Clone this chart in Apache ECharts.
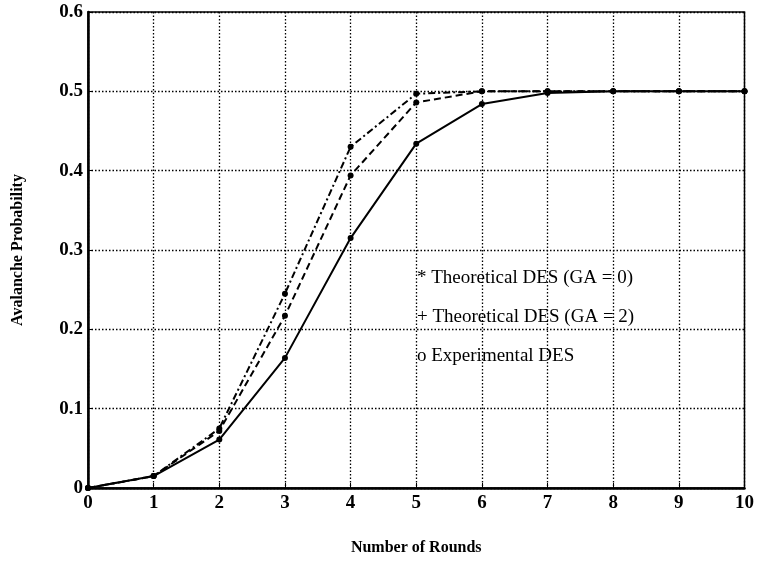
<!DOCTYPE html>
<html>
<head>
<meta charset="utf-8">
<script src="https://cdn.jsdelivr.net/npm/echarts@6/dist/echarts.min.js"></script>
<style>
  html, body { margin: 0; padding: 0; background: #fff; }
  #chart { width: 757px; height: 561px; }
</style>
</head>
<body>
<div id="chart"></div>
<script>
// rounds on the x axis
const rounds = [0, 1, 2, 3, 4, 5, 6, 7, 8, 9, 10];
// theoretical DES, GA = 0 (dash-dot)
const theoGA0 = [0, 0.015, 0.075, 0.245, 0.43, 0.497, 0.5, 0.5, 0.5, 0.5, 0.5];
// theoretical DES, GA = 2 (dashed)
const theoGA2 = [0, 0.015, 0.072, 0.217, 0.394, 0.486, 0.5, 0.5, 0.5, 0.5, 0.5];
// experimental DES (solid)
const experimental = [0, 0.015, 0.061, 0.164, 0.315, 0.434, 0.484, 0.498, 0.5, 0.5, 0.5];
const legendLines = [
  "* Theoretical DES (GA = 0)",
  "+ Theoretical DES (GA = 2)",
  "o Experimental DES"
];

const serif = "Liberation Serif";
const chart = echarts.init(document.getElementById("chart"), null, { renderer: "canvas" });

const pairs = (ys) => rounds.map((x, i) => [x, ys[i]]);

function mkSeries(name, ys, dash) {
  return {
    name: name,
    type: "line",
    data: pairs(ys),
    symbol: "circle",
    symbolSize: 6,
    itemStyle: { color: "#000" },
    lineStyle: { color: "#000", width: 2, type: dash },
    z: 5
  };
}

const option = {
  animation: false,
  grid: { left: 88, right: 10, top: 12, bottom: 71, show: true, borderColor: "#000", borderWidth: 1.5 },
  xAxis: {
    type: "value",
    min: 0, max: 10, interval: 1,
    name: "Number of Rounds",
    nameLocation: "middle",
    nameGap: 52,
    nameTextStyle: { fontFamily: serif, fontSize: 16, fontWeight: "bold", color: "#000" },
    axisLine: { lineStyle: { color: "#000", width: 2.5 } },
    axisTick: { inside: true, length: 5, lineStyle: { color: "#000" } },
    axisLabel: { fontFamily: serif, fontSize: 19, fontWeight: "bold", color: "#000", margin: 6 },
    splitLine: { show: true, lineStyle: { color: "#000", type: [1.5, 2], width: 1.3 } }
  },
  yAxis: {
    type: "value",
    min: 0, max: 0.6, interval: 0.1,
    name: "Avalanche Probability",
    nameLocation: "middle",
    nameGap: 62,
    nameTextStyle: { fontFamily: serif, fontSize: 16, fontWeight: "bold", color: "#000" },
    axisLine: { lineStyle: { color: "#000", width: 2.5 } },
    axisTick: { inside: true, length: 5, lineStyle: { color: "#000" } },
    axisLabel: {
      fontFamily: serif, fontSize: 19, fontWeight: "bold", color: "#000", margin: 5,
      formatter: (v) => (v === 0 ? "0" : v.toFixed(1))
    },
    splitLine: { show: true, lineStyle: { color: "#000", type: [1.5, 2], width: 1.3 } }
  },
  graphic: legendLines.map((t, i) => ({
    type: "text",
    left: 417,
    top: [269, 308, 347][i],
    style: { text: t, font: "19px 'Liberation Serif'", fill: "#000" },
    z: 10
  })),
  series: [
    mkSeries("Theoretical DES (GA = 0)", theoGA0, [7, 3, 2, 3]),
    mkSeries("Theoretical DES (GA = 2)", theoGA2, [7, 4]),
    mkSeries("Experimental DES", experimental, "solid")
  ]
};

chart.setOption(option);
</script>
</body>
</html>
